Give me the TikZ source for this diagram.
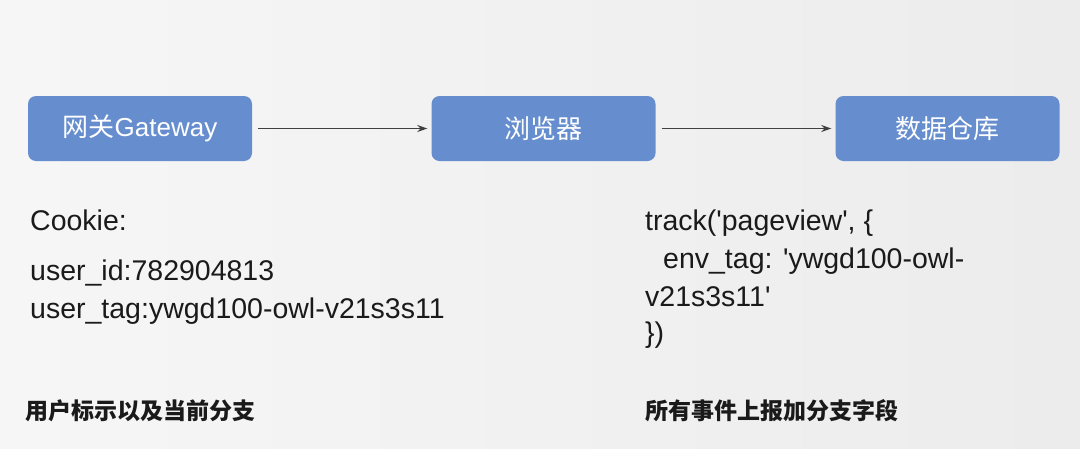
\documentclass[tikz,border=0pt]{standalone}
\usepackage{fontspec}
\setmainfont{Liberation Sans}
\newfontfamily\cjk{Noto Sans CJK SC}
\usetikzlibrary{arrows.meta}
\definecolor{boxblue}{HTML}{668ECE}
\definecolor{conncol}{HTML}{404040}
\definecolor{txt}{HTML}{1A1A1A}
\begin{document}
\begin{tikzpicture}[x=1pt,y=-1pt,
  box/.style={fill=boxblue, rounded corners=8pt, minimum width=224pt, minimum height=65pt,
    inner sep=0pt, text=white, font=\fontsize{26}{30}\selectfont},
  conn/.style={draw=conncol, line width=1.3pt, -{Stealth[length=10pt,width=7pt]}, shorten <=6pt, shorten >=4pt},
  body/.style={anchor=base west, inner sep=0pt, text=txt, font=\fontsize{28.5}{32}\selectfont},
  caption/.style={anchor=west, inner sep=0pt, text=txt, font=\cjk\bfseries\fontsize{23}{28}\selectfont}]
\useasboundingbox (0,0) rectangle (1080,448);
\shade[left color=gray!7, right color=gray!15] (0,0) rectangle (1080,448);
\node[box] (gw) at (140,128.5) {{\cjk 网关}Gateway};
\node[box] (br) at (543.5,128.5) {\cjk 浏览器};
\node[box] (dw) at (947.5,128.5) {\cjk 数据仓库};
\draw[conn] (gw) -- (br);
\draw[conn] (br) -- (dw);
\node[body] (ck) at (30,230) {Cookie:};
\node[body] (uid) at (30,280) {user\_id:782904813};
\node[body] (utag) at (30,318) {user\_tag:ywgd100-owl-v21s3s11};
\node[caption] (capl) at (25,411) {用户标示以及当前分支};
\node[body] (t1) at (645,230) {track(\textquotesingle pageview\textquotesingle, \{};
\node[body] (t2) at (663,268) {env\_tag: \textquotesingle ywgd100-owl-};
\node[body] (t3) at (645,306) {v21s3s11\textquotesingle};
\node[body] (t4) at (645,342) {\})};
\node[caption] (capr) at (645,411) {所有事件上报加分支字段};
\end{tikzpicture}
\end{document}
